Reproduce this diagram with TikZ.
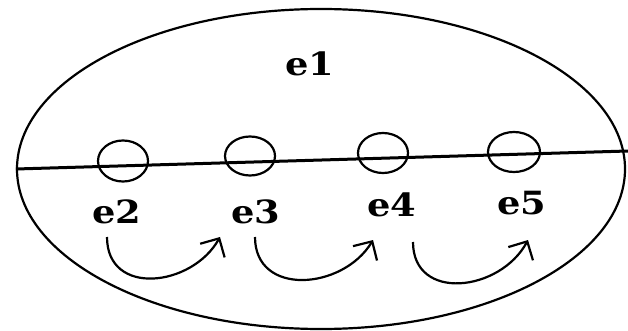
\documentclass[tikz,border=0pt]{standalone}
\usepackage{fontspec}
\newfontfamily\lblfont{DejaVu Serif}
\usetikzlibrary{shapes.geometric,arrows.meta}
\tikzset{
  outer/.style={ellipse,draw,line width=2.2pt,inner sep=0pt,minimum width=608pt,minimum height=320pt},
  ring/.style={ellipse,draw,line width=2.2pt,inner sep=0pt},
  lbl/.style={font=\lblfont\bfseries\fontsize{32}{38}\selectfont,inner sep=0pt,xscale=1.15},
  hop/.style={line width=2.2pt,-{Straight Barb[length=14pt,width=28pt,line cap=butt]}}
}
\begin{document}
\begin{tikzpicture}[x=1pt,y=-1pt]
\useasboundingbox (0,0) rectangle (628,331);
\node[outer] (e1) at (321,169) {};
\coordinate (L) at (e1.west);
\coordinate (R) at (628,151);
\draw[line width=3pt] (L) -- (R);
\node[ring,minimum width=50pt,minimum height=41pt] (c2) at (123,161) {};
\node[ring,minimum width=50pt,minimum height=39pt] (c3) at (250,156) {};
\node[ring,minimum width=50pt,minimum height=40pt] (c4) at (383,153) {};
\node[ring,minimum width=52pt,minimum height=40pt] (c5) at (514,152) {};
\node[lbl] (t1) at (310,64) {e1};
\node[lbl] (t2) at (117,212) {e2};
\node[lbl] (t3) at (256,212) {e3};
\node[lbl] (t4) at (392,205) {e4};
\node[lbl] (t5) at (522,203) {e5};
\coordinate (s2) at (107,237);
\coordinate (f2) at (220,237);
\coordinate (s3) at (255,237);
\coordinate (f3) at (373,240);
\coordinate (s4) at (413,242);
\coordinate (f4) at (528,240);
\draw[hop] (s2) .. controls +(0,60) and +(-28,50) .. (f2);
\draw[hop] (s3) .. controls +(0,60) and +(-30,50) .. (f3);
\draw[hop] (s4) .. controls +(0,60) and +(-28,52) .. (f4);
\end{tikzpicture}
\end{document}
